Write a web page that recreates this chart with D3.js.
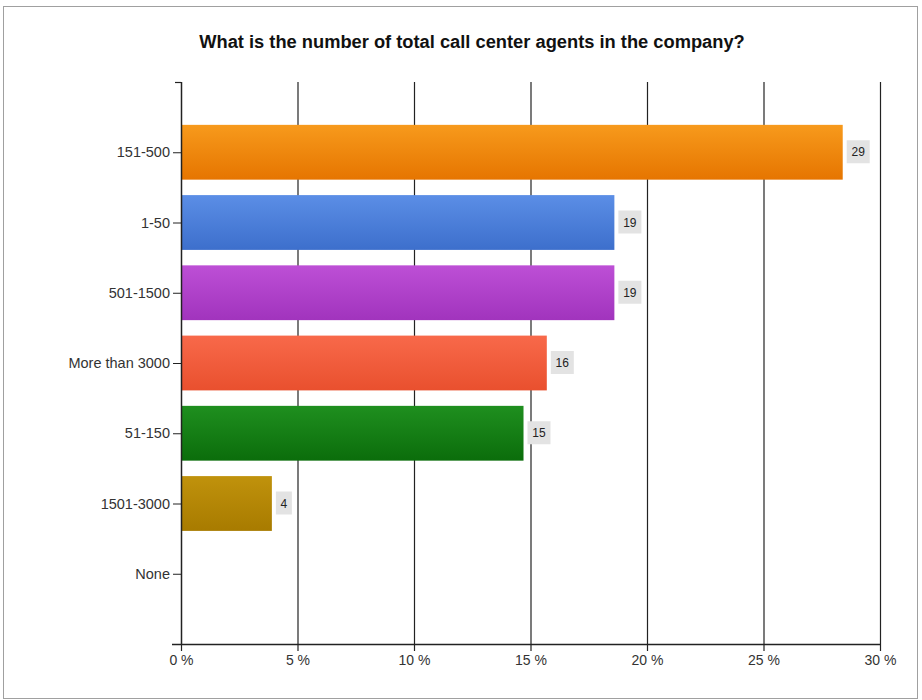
<!DOCTYPE html>
<html><head><meta charset="utf-8">
<script src="https://cdn.jsdelivr.net/npm/d3@7"></script>
<style>body{margin:0;background:#fff;font-family:Arial,"Liberation Sans",sans-serif}</style>
</head><body><svg id="c" width="922" height="700"></svg>
<script>
const categories = ["151-500","1-50","501-1500","More than 3000","51-150","1501-3000","None"];
const counts = [29,19,19,16,15,4,0];
const percents = [28.4,18.6,18.6,15.7,14.7,3.9,0];
const colorsTop = ["#f79a1c","#5b8ee6","#bd4fd6","#f8694a","#1f8f1f","#c0920c","#999"];
const colorsBot = ["#e67500","#3d6fcc","#a134bd","#e9502e","#0b6d0b","#a87b00","#888"];
const xTicks = [0,5,10,15,20,25,30];
const title = "What is the number of total call center agents in the company?";

(function(){
const svg = d3.select("#c");
svg.append("rect").attr("x",3.5).attr("y",6.5).attr("width",914).attr("height",692)
  .attr("fill","#fff").attr("stroke","#a0a0a0");
svg.append("text").attr("x",472).attr("y",48).attr("text-anchor","middle")
  .attr("font-size",18.3).attr("font-weight","bold").attr("fill","#111").text(title);

const pL=181, pR=880, pT=82, pB=644;
const x = d3.scaleLinear().domain([0,30]).range([pL,pR]);
const y = d3.scalePoint().domain(categories).range([pT,pB]).padding(1);
const bh = y.step()*0.78;

const defs = svg.append("defs");
categories.forEach((c,i)=>{
  const g = defs.append("linearGradient").attr("id","g"+i).attr("x1",0).attr("y1",0).attr("x2",0).attr("y2",1);
  g.append("stop").attr("offset","0%").attr("stop-color",colorsTop[i]);
  g.append("stop").attr("offset","100%").attr("stop-color",colorsBot[i]);
});

svg.append("g").selectAll("line").data(xTicks.slice(1)).join("line")
  .attr("x1",d=>x(d)+0.5).attr("x2",d=>x(d)+0.5).attr("y1",pT).attr("y2",pB)
  .attr("stroke","#222").attr("stroke-width",1.2);

svg.append("g").selectAll("rect").data(categories).join("rect")
  .attr("x",x(0)).attr("y",d=>y(d)-bh/2)
  .attr("width",(d,i)=>x(percents[i])-x(0)).attr("height",bh)
  .attr("fill",(d,i)=>`url(#g${i})`);

const bw = d=>String(counts[categories.indexOf(d)]).length*7+9;
const lab = svg.append("g").selectAll("g").data(categories.filter((d,i)=>counts[i]>0)).join("g")
  .attr("transform",d=>{const i=categories.indexOf(d);return `translate(${x(percents[i])+4},${y(d)})`;});
lab.append("rect").attr("x",0).attr("y",-12).attr("height",23).attr("width",bw).attr("fill","#e3e3e3");
lab.append("text").attr("x",d=>bw(d)/2).attr("y",4)
  .attr("text-anchor","middle").attr("font-size",12).attr("fill","#222")
  .text(d=>counts[categories.indexOf(d)]);

const xAxis = svg.append("g").attr("transform",`translate(0,${pB})`)
  .call(d3.axisBottom(x).tickValues(xTicks).tickFormat(d=>d+" %").tickSize(7).tickSizeOuter(0));
xAxis.select(".domain").remove();
svg.append("line").attr("x1",172).attr("x2",pR+1).attr("y1",pB+0.5).attr("y2",pB+0.5).attr("stroke","#222").attr("stroke-width",1.5);
xAxis.selectAll(".tick line").attr("stroke","#222").attr("stroke-width",1.2);
xAxis.selectAll(".tick text").attr("font-size",14).attr("fill","#333").attr("dy","0.8em")
  .attr("font-family","Arial,'Liberation Sans',sans-serif");

const yAxis = svg.append("g").attr("transform",`translate(${pL},0)`)
  .call(d3.axisLeft(y).tickSize(8).tickSizeOuter(0).tickPadding(3));
yAxis.select(".domain").remove();
svg.append("line").attr("x1",pL+0.5).attr("x2",pL+0.5).attr("y1",pT).attr("y2",pB).attr("stroke","#222").attr("stroke-width",1.5);
svg.append("line").attr("x1",175).attr("x2",pL).attr("y1",pT+0.5).attr("y2",pT+0.5).attr("stroke","#222").attr("stroke-width",1.2);
yAxis.selectAll(".tick line").attr("stroke","#222");
yAxis.selectAll(".tick text").attr("font-size",14.5).attr("fill","#333")
  .attr("font-family","Arial,'Liberation Sans',sans-serif");
})();
</script></body></html>
